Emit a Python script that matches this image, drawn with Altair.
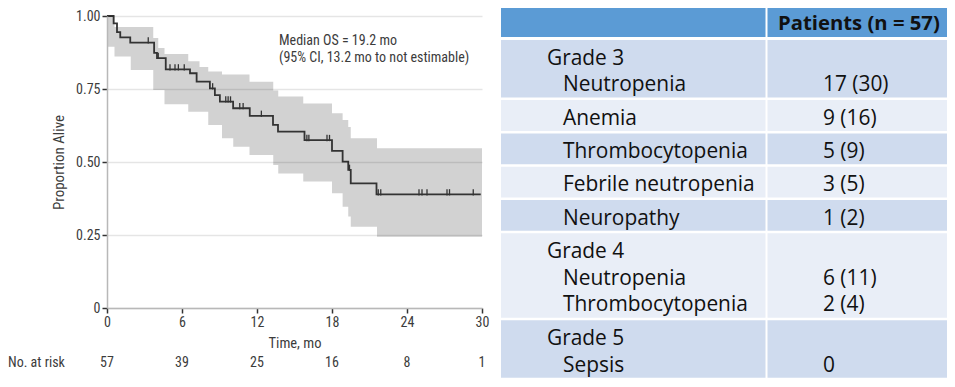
import altair as alt
import numpy as np
import pandas as pd

# ---------------- Kaplan-Meier data ----------------
km_time = [0, 0.53, 0.8, 1.06, 1.86, 3.77, 4.0, 4.7, 6.64, 7.17, 8.23, 8.63, 9.03,
           10.09, 11.42, 13.28, 13.68, 15.8, 18.0, 18.85, 19.3, 19.5, 21.56, 29.9]
km_surv = [1.0, 0.975, 0.945, 0.927, 0.909, 0.874, 0.856, 0.817, 0.804, 0.775, 0.752,
           0.729, 0.707, 0.684, 0.658, 0.627, 0.604, 0.575, 0.538, 0.501, 0.473, 0.427,
           0.389, 0.389]
censor_time = [3.3, 4.1, 5.04, 5.44, 5.71, 6.18, 8.45, 9.5, 9.69, 9.88, 10.62, 10.89,
               12.35, 15.99, 16.15, 17.6, 17.8, 19.4, 21.7, 21.9, 24.96, 25.2, 25.6,
               27.2, 27.4, 29.3]

ci_time = [0, 0.6, 1.9, 3.7, 4.1, 4.6, 6.5, 7.4, 8.1, 9.2, 10.1, 11.4, 13.3, 13.7,
           15.7, 18.0, 18.85, 19.3, 19.5, 21.6, 30]
ci_upper = [1.0, 0.962, 0.962, 0.925, 0.89, 0.87, 0.845, 0.825, 0.81, 0.80, 0.80,
            0.775, 0.745, 0.724, 0.70, 0.667, 0.644, 0.62, 0.581, 0.547, 0.547]
ci_lower = [0.895, 0.861, 0.815, 0.747, 0.747, 0.698, 0.672, 0.672, 0.627, 0.581,
            0.552, 0.524, 0.49, 0.461, 0.433, 0.393, 0.347, 0.313, 0.278, 0.244, 0.244]

risk_time = [0, 6, 12, 18, 24, 30]
risk_n = [57, 39, 25, 16, 8, 1]
x_ticks = [0, 6, 12, 18, 24, 30]
y_ticks = [0, 0.25, 0.5, 0.75, 1.0]
annot_lines = ["Median OS = 19.2 mo", "(95% CI, 13.2 mo to not estimable)"]

# ---------------- Adverse-event table ----------------
table_header = "Patients (n = 57)"
table_labels = [
    ["Grade 3", "Neutropenia"],
    ["Anemia"],
    ["Thrombocytopenia"],
    ["Febrile neutropenia"],
    ["Neuropathy"],
    ["Grade 4", "Neutropenia", "Thrombocytopenia"],
    ["Grade 5", "Sepsis"],
]
table_values = [
    ["", "17 (30)"],
    ["9 (16)"],
    ["5 (9)"],
    ["3 (5)"],
    ["1 (2)"],
    ["", "6 (11)", "2 (4)"],
    ["", "0"],
]

# ---------------- styling / layout ----------------
KM_FONT = "Liberation Sans Narrow, Roboto Condensed, DejaVu Sans Condensed, Roboto, sans-serif"
TBL_FONT = "Open Sans"
INK = "#3c3c3c"
W_PLOT, H_PLOT = 375, 292

TBL_W, TBL_H = 454, 382
TBL_X_RANGE = [394, 848]
TBL_Y_RANGE = [-11, 371]
LINE_H, ROW_PAD, GAP, HEADER_H = 26.8, 4, 2.5, 32
BASE_OFF = 24.5
COL_SPLIT = 264.5
LBL_X_GRADE, LBL_X_ITEM, VAL_X, HDR_X = 46, 62, 322, 277

# ---------------- data frames ----------------
km_df = pd.DataFrame({"time": km_time, "surv": km_surv})
ci_df = pd.DataFrame({"time": ci_time, "upper": ci_upper, "lower": ci_lower})
idx = np.searchsorted(np.array(km_time), np.array(censor_time), side="right") - 1
cens_df = pd.DataFrame({"time": censor_time, "surv": np.array(km_surv)[idx]})
risk_df = pd.DataFrame({"time": risk_time, "n": [str(v) for v in risk_n]})

cells, texts = [], []
cells.append(dict(x0=0, x1=COL_SPLIT, y0=0, y1=HEADER_H, band="header"))
cells.append(dict(x0=COL_SPLIT + 2, x1=TBL_W, y0=0, y1=HEADER_H, band="header"))
texts.append(dict(tx=HDR_X, ty=25, text=table_header, weight="bold"))
top = HEADER_H + 3
for i, (labels, values) in enumerate(zip(table_labels, table_values)):
    h = len(labels) * LINE_H + ROW_PAD
    band = "dark" if i % 2 == 0 else "light"
    cells.append(dict(x0=0, x1=COL_SPLIT, y0=top, y1=top + h, band=band))
    cells.append(dict(x0=COL_SPLIT + 2, x1=TBL_W, y0=top, y1=top + h, band=band))
    for j, (lab, val) in enumerate(zip(labels, values)):
        base = top + BASE_OFF + j * LINE_H
        texts.append(dict(tx=LBL_X_GRADE if lab.startswith("Grade") else LBL_X_ITEM,
                          ty=base, text=lab, weight="normal"))
        if val:
            texts.append(dict(tx=VAL_X, ty=base, text=val, weight="normal"))
    top += h + GAP
cells_df = pd.DataFrame(cells)
texts_df = pd.DataFrame(texts)

# ---------------- KM chart ----------------
x_scale = alt.Scale(domain=[0, 30], nice=False, zero=False)
y_scale = alt.Scale(domain=[0, 1], nice=False, zero=False)

X_AX = alt.Axis(values=x_ticks, title="Time, mo", grid=False, domainColor="#b8b8b8",
                domainWidth=1.5, tickColor="#333", tickSize=5, tickWidth=1.5,
                labelFont=KM_FONT, labelFontSize=14, labelColor=INK, labelPadding=2,
                labelFlush=False, titleFont=KM_FONT, titleFontSize=14.5,
                titleFontWeight="normal", titleColor=INK, titlePadding=7, zindex=1)
Y_AX = alt.Axis(values=y_ticks, title="Proportion Alive",
                labelExpr="datum.value == 0 ? '0' : format(datum.value, '.2f')",
                grid=True, gridColor="#000", gridOpacity=0.1, gridWidth=1.5,
                domainColor="#b8b8b8", domainWidth=1.5, tickColor="#333", tickSize=5,
                tickWidth=1.5, labelFont=KM_FONT, labelFontSize=14, labelColor=INK,
                labelPadding=2, titleFont=KM_FONT, titleFontSize=15,
                titleFontWeight="normal", titleColor=INK, titlePadding=9, zindex=1)

band = alt.Chart(ci_df).mark_area(interpolate="step-after", color="#d2d2d2").encode(
    x=alt.X("time:Q", scale=x_scale, axis=X_AX),
    y=alt.Y("upper:Q", scale=y_scale, axis=Y_AX),
    y2="lower:Q",
)
line = alt.Chart(km_df).mark_line(interpolate="step-after", color="#333",
                                  strokeWidth=1.8).encode(
    x=alt.X("time:Q", scale=x_scale, axis=X_AX),
    y=alt.Y("surv:Q", scale=y_scale, axis=Y_AX),
)
cens = alt.Chart(cens_df).mark_point(shape="M0,0.2L0,-1", size=110, filled=False,
                                     strokeWidth=1.3, color="#333", opacity=1).encode(
    x=alt.X("time:Q", scale=x_scale, axis=X_AX),
    y=alt.Y("surv:Q", scale=y_scale, axis=Y_AX),
)
risk = alt.Chart(risk_df).mark_text(font=KM_FONT, fontSize=14, color=INK,
                                    baseline="middle").encode(
    x=alt.X("time:Q", scale=x_scale, axis=X_AX),
    y=alt.value(347),
    text="n:N",
)
risk_lbl = alt.Chart(pd.DataFrame({"t": ["No. at risk"]})).mark_text(
    font=KM_FONT, fontSize=14, color=INK, align="left", baseline="middle").encode(
    x=alt.value(-99), y=alt.value(347), text="t:N")
annot = alt.Chart(pd.DataFrame({"a": [0]})).mark_text(
    text=annot_lines, font=KM_FONT, fontSize=14, color=INK, align="left",
    baseline="top", lineHeight=17).encode(x=alt.value(172), y=alt.value(18))

km = alt.layer(band, line, cens, risk, risk_lbl, annot)

# ---------------- table chart ----------------
tx = alt.Scale(domain=[0, TBL_W], range=TBL_X_RANGE, nice=False, zero=False)
ty = alt.Scale(domain=[0, TBL_H], range=TBL_Y_RANGE, nice=False, zero=False)

rects = alt.Chart(cells_df).mark_rect().encode(
    x=alt.X("x0:Q", scale=tx, axis=None), x2="x1:Q",
    y=alt.Y("y0:Q", scale=ty, axis=None), y2="y1:Q",
    color=alt.Color("band:N", scale=alt.Scale(domain=["header", "dark", "light"],
                    range=["#5B9BD5", "#CFDBEE", "#E9EEF7"]), legend=None),
)
txt_norm = alt.Chart(texts_df[texts_df.weight == "normal"]).mark_text(
    align="left", baseline="alphabetic", font=TBL_FONT, fontSize=20.9, color="#111").encode(
    x=alt.X("tx:Q", scale=tx, axis=None), y=alt.Y("ty:Q", scale=ty, axis=None), text="text:N")
txt_bold = alt.Chart(texts_df[texts_df.weight == "bold"]).mark_text(
    align="left", baseline="alphabetic", font=TBL_FONT, fontSize=20.3, fontWeight="bold",
    color="#111").encode(
    x=alt.X("tx:Q", scale=tx, axis=None), y=alt.Y("ty:Q", scale=ty, axis=None), text="text:N")

table = alt.layer(rects, txt_norm, txt_bold)

chart = alt.layer(km, table).resolve_scale(x="independent", y="independent").properties(
    width=W_PLOT, height=H_PLOT,
    autosize=alt.AutoSizeParams(type="none"),
    padding={"left": 99, "top": 8, "right": 465, "bottom": 71},
).configure_view(stroke=None)

chart.save("out.html", embed_options={"renderer": "svg", "actions": False})
